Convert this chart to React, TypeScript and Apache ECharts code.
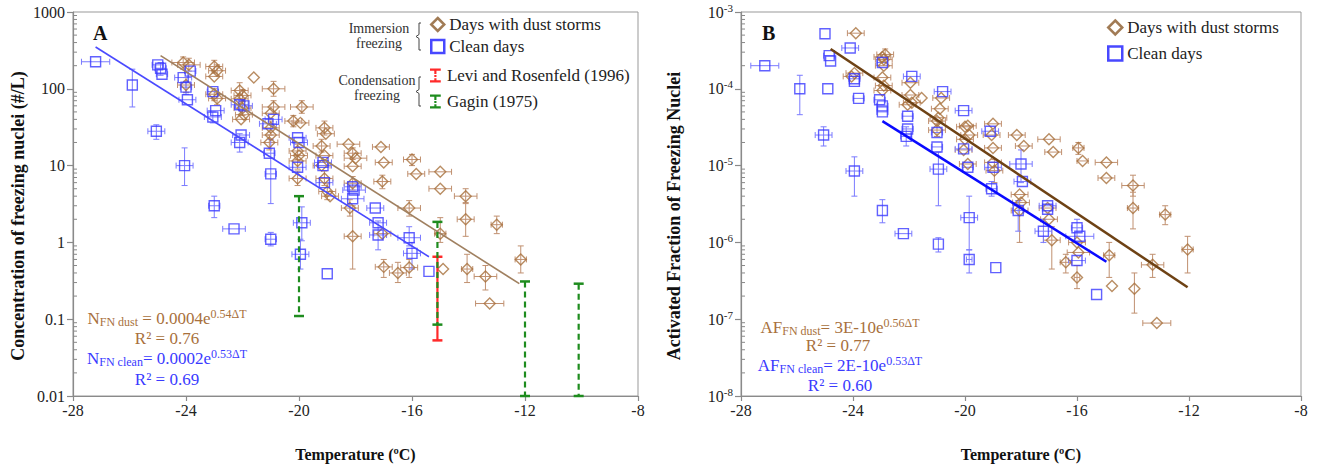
import React, { useEffect, useRef } from 'react';
import * as echarts from 'echarts';

const FONT = '"Liberation Serif", "Times New Roman", serif';
const BROWN = '#a8703c';
const BROWN_ERR = '#c09070';
const BLUE = '#3a3aff';
const BLUE_ERR = '#7a7aff';
const RED = '#ff2a2a';
const GREEN = '#1e8c1e';

// ---------- X axis ----------
const xMin = -28;
const xMax = -8;
const xStep = 4;

// ---------- Panel A (concentration, #/L) ----------
const yTickLabelsA = ['0.01', '0.1', '1', '10', '100', '1000'];
const decadesA = [-2, -1, 0, 1, 2];
// [T, value, xErr, yLow, yHigh]
const dustA = [
  [-24.1, 220, 0.4, 180, 260], [-23.9, 205, 0.4, 170, 250], [-24.0, 112, 0.3, 90, 140],
  [-23.0, 195, 0.3, 160, 235], [-22.9, 172, 0.3, 145, 205], [-23.0, 145, 0.3, 0, 0],
  [-23.0, 85, 0.3, 70, 100], [-22.9, 75, 0.3, 62, 90], [-21.6, 140, 0, 0, 0],
  [-22.1, 95, 0.3, 75, 120], [-22.0, 82, 0.3, 68, 98], [-22.1, 74, 0.3, 0, 0],
  [-22.0, 56, 0.3, 45, 68], [-21.95, 46, 0.3, 0, 0], [-22.05, 40, 0.3, 0, 0],
  [-20.9, 100, 0.4, 80, 125], [-20.9, 58, 0.4, 48, 70], [-21.0, 48, 0.3, 0, 0],
  [-21.0, 31, 0.3, 25, 38], [-21.0, 25, 0.3, 0, 0], [-21.05, 20, 0.3, 16, 25],
  [-19.9, 58, 0.4, 48, 70], [-20.2, 38, 0.3, 32, 45], [-19.95, 36, 0.3, 0, 0],
  [-20.05, 15.5, 0.3, 12, 19], [-20.0, 13.5, 0.3, 0, 0], [-20.05, 11.5, 0.3, 9, 14],
  [-20.05, 6.8, 0.3, 5.5, 8.5], [-19.1, 31, 0.3, 25, 38], [-19.05, 26, 0.3, 0, 0],
  [-19.2, 18, 0.3, 15, 22], [-19.1, 13.5, 0.3, 0, 0], [-19.2, 10, 0.3, 0, 0],
  [-19.1, 6.8, 0.3, 5.5, 8.5], [-19.0, 4.6, 0.3, 3.6, 5.8], [-18.25, 19, 0.4, 0, 0],
  [-18.1, 14.5, 0.3, 12, 17], [-18.0, 12.5, 0.4, 0, 0], [-18.1, 9.8, 0.3, 0, 0],
  [-18.1, 5.9, 0.3, 4.8, 7.2], [-18.9, 4, 0.3, 0, 0], [-18.1, 1.2, 0.3, 0.45, 3],
  [-18.2, 2.8, 0.3, 2.2, 3.6], [-17.1, 17.5, 0.3, 0, 0], [-17.0, 11, 0.3, 0, 0],
  [-17.05, 6.2, 0.3, 5, 7.5], [-17.05, 1.3, 0.3, 0, 0], [-17.0, 0.48, 0.3, 0.35, 0.6],
  [-16.5, 0.4, 0.3, 0.3, 0.55], [-16.1, 2.8, 0.4, 2.2, 3.5], [-16.0, 12, 0.3, 10, 14],
  [-15.85, 7.8, 0.3, 0, 0], [-16.1, 0.47, 0.3, 0.35, 0.6], [-15.0, 8.3, 0.4, 0, 0],
  [-15.0, 5.0, 0.4, 0, 0], [-14.1, 4.0, 0.4, 3.3, 5], [-14.1, 2.0, 0.3, 1.2, 3.2],
  [-13.0, 1.7, 0.2, 1.3, 2.2], [-15.0, 1.3, 0.2, 1.0, 2.1], [-14.9, 0.45, 0, 0, 0],
  [-14.05, 0.45, 0.2, 0.3, 0.7], [-13.4, 0.36, 0.4, 0.24, 0.5], [-12.15, 0.6, 0.2, 0.4, 0.9],
  [-13.25, 0.16, 0.5, 0, 0],
];
const cleanA = [
  [-27.2, 225, 0.5, 0, 0], [-25.9, 112, 0, 58, 180], [-25.05, 28, 0.3, 22, 34],
  [-25.0, 205, 0.2, 0, 0], [-24.9, 185, 0.2, 150, 220], [-24.85, 155, 0.2, 0, 0],
  [-24.05, 10, 0.3, 5.5, 17], [-24.1, 140, 0.3, 0, 0], [-23.85, 170, 0.2, 0, 0],
  [-24.0, 105, 0.2, 85, 125], [-23.95, 72, 0.3, 0, 0], [-23.05, 92, 0.2, 0, 0],
  [-22.95, 52, 0.3, 0, 0], [-23.05, 43, 0.3, 36, 50], [-23.0, 3.0, 0.2, 2.1, 4.0],
  [-22.1, 62, 0.3, 0, 0], [-21.95, 60, 0.3, 0, 0], [-22.05, 25, 0.3, 0, 0],
  [-22.1, 20, 0.3, 15, 26], [-22.3, 1.5, 0.4, 0, 0], [-21.05, 14.5, 0.2, 0, 0],
  [-21.0, 7.8, 0.2, 3.2, 22], [-21.1, 35, 0.3, 0, 0], [-20.9, 40, 0.3, 0, 0],
  [-21.0, 1.1, 0.2, 0.9, 1.35], [-20.05, 23, 0.3, 0, 0], [-20.0, 20, 0.3, 0, 0],
  [-20.05, 9.5, 0.3, 0, 0], [-19.9, 1.8, 0.3, 1.05, 2.9], [-19.95, 0.7, 0.3, 0.45, 1.1],
  [-19.15, 11, 0.3, 0, 0], [-19.15, 10, 0.3, 0, 0], [-19.1, 6.0, 0.3, 0, 0],
  [-19.0, 0.39, 0, 0, 0], [-18.1, 5.3, 0.3, 0, 0], [-18.05, 4.8, 0.4, 0, 0],
  [-18.1, 3.7, 0.4, 0, 0], [-17.3, 2.8, 0.3, 0, 0], [-17.2, 1.8, 0.3, 0, 0],
  [-17.2, 1.25, 0.3, 0.8, 1.9], [-16.1, 1.15, 0.4, 0.9, 1.6], [-16.0, 0.72, 0.3, 0.45, 1.0],
  [-15.4, 0.42, 0, 0, 0],
];
const dustFitA = [[-24.9, 270], [-12.2, 0.29]];
const cleanFitA = [[-27.2, 350], [-15.4, 0.65]];
// [T, low, high]
const leviA = [[-15.1, 0.053, 0.65]];
const gaginA = [[-20.0, 0.11, 4.0], [-15.1, 0.085, 1.85], [-12.0, 0.01, 0.31], [-10.1, 0.01, 0.29]];

// ---------- Panel B (activated fraction) ----------
const decadesB = [-8, -7, -6, -5, -4];
const dustB = [
  [-23.9, 5.3e-4, 0.3, 0, 0], [-22.85, 2.8e-4, 0.3, 2.4e-4, 3.3e-4], [-22.95, 2.6e-4, 0.3, 0, 0],
  [-22.9, 2.4e-4, 0.3, 0, 0], [-22.9, 2.0e-4, 0.3, 0, 0], [-23.95, 1.6e-4, 0.3, 0, 0],
  [-24.05, 1.45e-4, 0.3, 0, 0], [-22.95, 1.4e-4, 0.3, 0, 0], [-22.9, 1.1e-4, 0.3, 0, 0],
  [-22.95, 9.5e-5, 0.3, 0, 0], [-21.95, 1.2e-4, 0.3, 0, 0], [-21.95, 8.3e-5, 0.3, 0, 0],
  [-21.9, 6.6e-5, 0.3, 0, 0], [-22.05, 6.2e-5, 0.3, 0, 0], [-21.55, 7.6e-5, 0, 0, 0],
  [-20.85, 7.6e-5, 0.3, 0, 0], [-20.9, 5.5e-5, 0.3, 0, 0], [-20.95, 4.2e-5, 0.3, 0, 0],
  [-21.0, 3.8e-5, 0.3, 0, 0], [-21.0, 2.9e-5, 0.3, 2.4e-5, 3.5e-5], [-20.0, 3.2e-5, 0.3, 0, 0],
  [-19.9, 3.3e-5, 0.3, 0, 0], [-19.85, 2.5e-5, 0.3, 0, 0], [-20.0, 2.2e-5, 0.3, 0, 0],
  [-20.05, 1.6e-5, 0.3, 0, 0], [-19.9, 1.05e-5, 0.3, 0, 0], [-19.0, 3.5e-5, 0.3, 0, 0],
  [-19.05, 2.5e-5, 0.3, 0, 0], [-19.0, 1.7e-5, 0.3, 0, 0], [-19.0, 1.1e-5, 0.3, 0, 0],
  [-18.95, 8.6e-6, 0.3, 6e-6, 1.2e-5], [-18.15, 2.5e-5, 0.3, 0, 0], [-17.9, 1.8e-5, 0.3, 0, 0],
  [-17.0, 2.2e-5, 0.4, 0, 0], [-16.85, 1.5e-5, 0.3, 0, 0], [-15.95, 1.7e-5, 0.2, 1.4e-5, 2.0e-5],
  [-15.8, 1.15e-5, 0.2, 0, 0], [-14.95, 1.1e-5, 0.4, 0, 0], [-14.95, 6.9e-6, 0.3, 0, 0],
  [-14.0, 5.5e-6, 0.4, 4e-6, 7.5e-6], [-14.0, 2.8e-6, 0.2, 1.5e-6, 4.5e-6], [-12.85, 2.3e-6, 0.2, 1.7e-6, 3.0e-6],
  [-12.05, 8.1e-7, 0.2, 4e-7, 1.2e-6], [-13.3, 5.1e-7, 0.4, 3.5e-7, 7e-7], [-13.95, 2.5e-7, 0, 1.2e-7, 4e-7],
  [-13.15, 8.9e-8, 0.5, 0, 0], [-14.75, 2.7e-7, 0, 0, 0], [-14.85, 6.8e-7, 0.2, 3.5e-7, 1e-6],
  [-16.0, 3.5e-7, 0.1, 2.5e-7, 5e-7], [-16.4, 5.5e-7, 0.2, 4e-7, 7e-7], [-15.95, 7.4e-7, 0.4, 0, 0],
  [-16.9, 1.07e-6, 0.3, 4.5e-7, 1.6e-6], [-17.0, 2.0e-6, 0.3, 0, 0], [-18.05, 4.2e-6, 0.3, 0, 0],
  [-18.0, 3.3e-6, 0.3, 0, 0], [-18.05, 2.6e-6, 0.3, 1e-6, 3.5e-6], [-17.05, 2.8e-6, 0.3, 0, 0],
  [-16.0, 1.0e-6, 0.3, 0, 0],
];
const cleanB = [
  [-27.15, 2.0e-4, 0.5, 0, 0], [-25.9, 1.0e-4, 0, 4.6e-5, 1.5e-4], [-25.0, 5.2e-4, 0, 0, 0],
  [-24.9, 1.0e-4, 0, 0, 0], [-24.85, 2.7e-4, 0.2, 0, 0], [-24.8, 2.3e-4, 0, 0, 0],
  [-25.05, 2.5e-5, 0.3, 1.8e-5, 3.2e-5], [-23.95, 8.5e-6, 0.3, 4e-6, 1.3e-5], [-24.1, 3.4e-4, 0.3, 0, 0],
  [-23.95, 1.35e-4, 0.2, 0, 0], [-23.95, 1.25e-4, 0, 0, 0], [-23.8, 7.5e-5, 0.2, 0, 0],
  [-22.95, 2.2e-4, 0.2, 0, 0], [-23.05, 7.2e-5, 0.2, 0, 0], [-22.95, 6.0e-5, 0.2, 0, 0],
  [-22.95, 5.0e-5, 0.2, 0, 0], [-21.9, 1.45e-4, 0.3, 0, 0], [-22.05, 4.4e-5, 0.2, 0, 0],
  [-22.05, 3.0e-5, 0.2, 0, 0], [-22.1, 2.4e-5, 0.2, 1.8e-5, 3.2e-5], [-20.8, 9.2e-5, 0.3, 0, 0],
  [-21.0, 2.7e-5, 0.2, 0, 0], [-21.0, 1.75e-5, 0.2, 0, 0], [-20.95, 9.0e-6, 0.3, 3e-6, 1.5e-5],
  [-20.05, 5.2e-5, 0.3, 0, 0], [-20.05, 1.65e-5, 0.3, 0, 0], [-19.9, 9.5e-6, 0.2, 0, 0],
  [-19.1, 2.8e-5, 0.3, 0, 0], [-19.0, 9.5e-6, 0.3, 0, 0], [-19.05, 5.0e-6, 0.2, 4e-6, 6.2e-6],
  [-18.0, 1.05e-5, 0.4, 6e-6, 1.6e-5], [-17.95, 6.2e-6, 0.3, 0, 0], [-22.95, 2.6e-6, 0, 1.8e-6, 3.6e-6],
  [-22.2, 1.3e-6, 0.3, 0, 0], [-20.95, 9.5e-7, 0, 7.5e-7, 1.15e-6], [-19.85, 2.1e-6, 0.3, 8e-7, 4e-6],
  [-19.85, 6.0e-7, 0.1, 4e-7, 8e-7], [-18.9, 4.7e-7, 0, 0, 0], [-18.1, 2.6e-6, 0.2, 1.4e-6, 3.5e-6],
  [-17.05, 3.0e-6, 0.3, 0, 0], [-17.05, 2.7e-6, 0, 0, 0], [-17.2, 1.4e-6, 0.3, 1e-6, 2e-6],
  [-16.0, 1.55e-6, 0.2, 1.2e-6, 2e-6], [-15.9, 1.2e-6, 0.5, 0, 0], [-16.0, 5.8e-7, 0.3, 0, 0],
  [-15.3, 2.1e-7, 0, 0, 0],
];
const dustFitB = [[-24.8, 3.3e-4], [-12.05, 2.6e-7]];
const cleanFitB = [[-22.95, 3.8e-5], [-14.95, 5.6e-7]];

const minorMultipliers = [2, 3, 4, 5, 6, 7, 8, 9];
function minorTicks(decades: number[]) {
  const out: number[][] = [];
  decades.forEach((e) => minorMultipliers.forEach((m) => out.push([xMin, m * Math.pow(10, e)])));
  return out;
}

function errRender(color: string) {
  return (params: any, api: any) => {
    const x = api.value(0), y = api.value(1), xe = api.value(2), ylo = api.value(3), yhi = api.value(4);
    const c = api.coord([x, y]);
    const style = { stroke: color, lineWidth: 1, fill: 'none' };
    const children: any[] = [];
    if (xe > 0) {
      const l = api.coord([x - xe, y]);
      const r = api.coord([x + xe, y]);
      children.push({ type: 'line', shape: { x1: l[0], y1: c[1], x2: r[0], y2: c[1] }, style });
      children.push({ type: 'line', shape: { x1: l[0], y1: c[1] - 3, x2: l[0], y2: c[1] + 3 }, style });
      children.push({ type: 'line', shape: { x1: r[0], y1: c[1] - 3, x2: r[0], y2: c[1] + 3 }, style });
    }
    if (ylo > 0 && yhi > 0) {
      const t = api.coord([x, yhi]);
      const b = api.coord([x, ylo]);
      children.push({ type: 'line', shape: { x1: c[0], y1: t[1], x2: c[0], y2: b[1] }, style });
      children.push({ type: 'line', shape: { x1: c[0] - 3, y1: t[1], x2: c[0] + 3, y2: t[1] }, style });
      children.push({ type: 'line', shape: { x1: c[0] - 3, y1: b[1], x2: c[0] + 3, y2: b[1] }, style });
    }
    return { type: 'group', children };
  };
}

function rangeRender(color: string, dashed: boolean) {
  return (params: any, api: any) => {
    const x = api.value(0), lo = api.value(1), hi = api.value(2);
    const t = api.coord([x, hi]);
    const b = api.coord([x, lo]);
    const line: any = { stroke: color, lineWidth: 2.2, fill: 'none' };
    if (dashed) line.lineDash = [6, 4];
    const cap = { stroke: color, lineWidth: 2.5, fill: 'none' };
    return {
      type: 'group',
      children: [
        { type: 'line', shape: { x1: t[0], y1: t[1], x2: b[0], y2: b[1] }, style: line },
        { type: 'line', shape: { x1: t[0] - 5, y1: t[1], x2: t[0] + 5, y2: t[1] }, style: cap },
        { type: 'line', shape: { x1: b[0] - 5, y1: b[1], x2: b[0] + 5, y2: b[1] }, style: cap },
      ],
    };
  };
}

function minorRender(params: any, api: any) {
  const c = api.coord([api.value(0), api.value(1)]);
  return { type: 'line', shape: { x1: c[0], y1: c[1], x2: c[0] + 4, y2: c[1] }, style: { stroke: '#888', lineWidth: 1 } };
}

const axisLineStyle = { color: '#8a8a8a', width: 1.2 };
const labelStyle = { fontFamily: FONT, fontSize: 16, color: '#222' };
const nameStyle = { fontFamily: FONT, fontSize: 16, fontWeight: 'bold' as const, color: '#111' };
const yNameStyle = { fontFamily: FONT, fontSize: 18, fontWeight: 'bold' as const, color: '#111', padding: [0, 24, 0, 0] };

function xAxisFor(gi: number) {
  return {
    gridIndex: gi, type: 'value', min: xMin, max: xMax, interval: xStep,
    axisLine: { show: true, onZero: false, lineStyle: axisLineStyle },
    axisTick: { show: true, length: 5, lineStyle: axisLineStyle },
    axisLabel: { ...labelStyle, margin: 6 },
    splitLine: { show: false },
    name: 'Temperature (ºC)', nameLocation: 'middle', nameGap: 50, nameTextStyle: nameStyle,
  };
}

const IBAR = 'path://M0,0h10v2h-4v3h-2v-3h-4z M4,6h2v2h-2z M0,13h10v-2h-4v-2h-2v2h-4z';

function sc(name: string, gi: number, data: number[][], symbol: string, color: string, size: number) {
  return {
    type: 'scatter', name, xAxisIndex: gi, yAxisIndex: gi, z: 3,
    data: data.map((d) => [d[0], d[1]]), symbol, symbolSize: size,
    itemStyle: { color: 'rgba(255,255,255,0)', borderColor: color, borderWidth: 1.4 },
  };
}
function errSeries(gi: number, data: number[][], color: string) {
  return { type: 'custom', xAxisIndex: gi, yAxisIndex: gi, z: 2, silent: true, data, renderItem: errRender(color) };
}
function fitSeries(gi: number, data: number[][], color: string, width: number) {
  return {
    type: 'line', xAxisIndex: gi, yAxisIndex: gi, z: 4, data, showSymbol: false, symbol: 'none', silent: true,
    lineStyle: { color, width },
  };
}

function eqText(x: number, y: number, pre: string, sub: string, mid: string, sup: string, color: string) {
  return {
    type: 'text', x, y, z: 10,
    style: {
      text: `{m|${pre}}{s|${sub}}{m|${mid}}{p|${sup}}`,
      align: 'center', verticalAlign: 'middle', fill: color,
      rich: {
        m: { fontFamily: FONT, fontSize: 17, fill: color },
        s: { fontFamily: FONT, fontSize: 12, fill: color, padding: [8, 0, 0, 0] },
        p: { fontFamily: FONT, fontSize: 12, fill: color, padding: [0, 0, 9, 0] },
      },
    },
  };
}
function plainText(x: number, y: number, text: string, color: string, size = 17, weight = 'normal', align = 'center') {
  return {
    type: 'text', x, y, z: 10,
    style: { text, fontFamily: FONT, fontSize: size, fontWeight: weight, fill: color, align, verticalAlign: 'middle', lineHeight: size + 1 },
  };
}
function brace(x: number, y0: number, y1: number) {
  const m = (y0 + y1) / 2;
  return {
    type: 'polyline', z: 10,
    shape: { points: [[x + 5, y0], [x + 3, y0], [x + 3, m - 2], [x, m], [x + 3, m + 2], [x + 3, y1], [x + 5, y1]] },
    style: { stroke: '#444', fill: 'none', lineWidth: 1 },
  };
}

const legendText = { fontFamily: FONT, fontSize: 17, color: '#222' };
const dustIcon = { name: 'Days with dust storms', icon: 'diamond', itemStyle: { color: 'rgba(255,255,255,0)', borderColor: '#8a5a2b', borderWidth: 2.5 } };
const cleanIcon = { name: 'Clean days', icon: 'rect', itemStyle: { color: 'rgba(255,255,255,0)', borderColor: '#1a1aff', borderWidth: 2.5 } };

const option: any = {
  animation: false,
  backgroundColor: '#fff',
  grid: [
    { left: 73, top: 12, width: 565, height: 384, show: true, borderColor: '#999', borderWidth: 1, backgroundColor: 'transparent' },
    { left: 741, top: 12, width: 560, height: 384, show: true, borderColor: '#999', borderWidth: 1, backgroundColor: 'transparent' },
  ],
  xAxis: [xAxisFor(0), xAxisFor(1)],
  yAxis: [
    {
      gridIndex: 0, type: 'log', logBase: 10, min: 0.01, max: 1000,
      axisLine: { show: true, lineStyle: axisLineStyle },
      axisTick: { show: true, length: 6, lineStyle: axisLineStyle },
      axisLabel: { ...labelStyle, margin: 8, formatter: (v: number) => yTickLabelsA[Math.round(Math.log10(v)) + 2] },
      splitLine: { show: false },
      name: 'Concentration of freezing nuclei (#/L)', nameLocation: 'middle', nameGap: 46, nameRotate: 90, nameTextStyle: yNameStyle,
    },
    {
      gridIndex: 1, type: 'log', logBase: 10, min: 1e-8, max: 1e-3,
      axisLine: { show: true, lineStyle: axisLineStyle },
      axisTick: { show: true, length: 6, lineStyle: axisLineStyle },
      axisLabel: {
        ...labelStyle, margin: 8,
        formatter: (v: number) => `{b|10}{s|${Math.round(Math.log10(v))}}`,
        rich: {
          b: { fontFamily: FONT, fontSize: 16, color: '#222' },
          s: { fontFamily: FONT, fontSize: 11, color: '#222', padding: [0, 0, 9, 0] },
        },
      },
      splitLine: { show: false },
      name: 'Activated Fraction of Freezing Nuclei', nameLocation: 'middle', nameGap: 58, nameRotate: 90, nameTextStyle: yNameStyle,
    },
  ],
  legend: [
    { left: 430, top: 16, orient: 'vertical', itemGap: 5, itemWidth: 13, itemHeight: 13, padding: 0, selectedMode: false, data: [dustIcon, cleanIcon], textStyle: legendText },
    {
      left: 430, top: 67, orient: 'vertical', itemGap: 9, itemWidth: 13, itemHeight: 14, padding: 0, selectedMode: false,
      data: [
        { name: 'Levi and Rosenfeld (1996)', icon: IBAR, itemStyle: { color: RED } },
        { name: 'Gagin (1975)', icon: IBAR, itemStyle: { color: GREEN } },
      ],
      textStyle: legendText,
    },
    { left: 1107, top: 19, orient: 'vertical', itemGap: 9, itemWidth: 14, itemHeight: 14, padding: 0, selectedMode: false, data: [dustIcon, cleanIcon], textStyle: legendText },
  ],
  series: [
    { type: 'custom', xAxisIndex: 0, yAxisIndex: 0, silent: true, data: minorTicks(decadesA), renderItem: minorRender },
    { type: 'custom', xAxisIndex: 1, yAxisIndex: 1, silent: true, data: minorTicks(decadesB), renderItem: minorRender },
    errSeries(0, dustA, BROWN_ERR),
    errSeries(0, cleanA, BLUE_ERR),
    errSeries(1, dustB, BROWN_ERR),
    errSeries(1, cleanB, BLUE_ERR),
    sc('Days with dust storms', 0, dustA, 'diamond', BROWN, 11),
    sc('Clean days', 0, cleanA, 'rect', BLUE, 10),
    sc('Days with dust storms', 1, dustB, 'diamond', BROWN, 11),
    sc('Clean days', 1, cleanB, 'rect', BLUE, 10),
    fitSeries(0, dustFitA, '#a08060', 1.6),
    fitSeries(0, cleanFitA, '#4a4aff', 1.6),
    fitSeries(1, dustFitB, '#6e4214', 2.5),
    fitSeries(1, cleanFitB, '#0a0aff', 2.5),
    { type: 'custom', name: 'Levi and Rosenfeld (1996)', xAxisIndex: 0, yAxisIndex: 0, z: 5, itemStyle: { color: RED }, data: leviA, renderItem: rangeRender(RED, false) },
    { type: 'custom', name: 'Gagin (1975)', xAxisIndex: 0, yAxisIndex: 0, z: 6, itemStyle: { color: GREEN }, data: gaginA, renderItem: rangeRender(GREEN, true) },
  ],
  graphic: [
    plainText(93, 33, 'A', '#111', 20, 'bold', 'left'),
    plainText(762, 33, 'B', '#111', 20, 'bold', 'left'),
    plainText(379, 36, 'Immersion\nfreezing', '#333', 14),
    plainText(377, 88, 'Condensation\nfreezing', '#333', 14),
    brace(416, 23, 50),
    brace(416, 77, 106),
    eqText(167, 318, 'N', 'FN dust', ' = 0.0004e', '0.54ΔT', BROWN),
    plainText(167, 338, 'R² = 0.76', BROWN),
    eqText(167, 358, 'N', 'FN clean', '= 0.0002e', '0.53ΔT', BLUE),
    plainText(167, 379, 'R² = 0.69', BLUE),
    eqText(840, 327, 'AF', 'FN dust', '= 3E-10e', '0.56ΔT', BROWN),
    plainText(838, 345, 'R² = 0.77', BROWN),
    eqText(840, 365, 'AF', 'FN clean', '= 2E-10e', '0.53ΔT', BLUE),
    plainText(840, 385, 'R² = 0.60', BLUE),
  ],
};

export default function App() {
  const ref = useRef<HTMLDivElement>(null);
  useEffect(() => {
    if (!ref.current) return;
    const chart = echarts.init(ref.current, null, { renderer: 'svg' });
    chart.setOption(option);
    return () => chart.dispose();
  }, []);
  return <div ref={ref} style={{ position: 'absolute', left: 0, top: 0, width: 1320, height: 472, background: '#fff' }} />;
}
